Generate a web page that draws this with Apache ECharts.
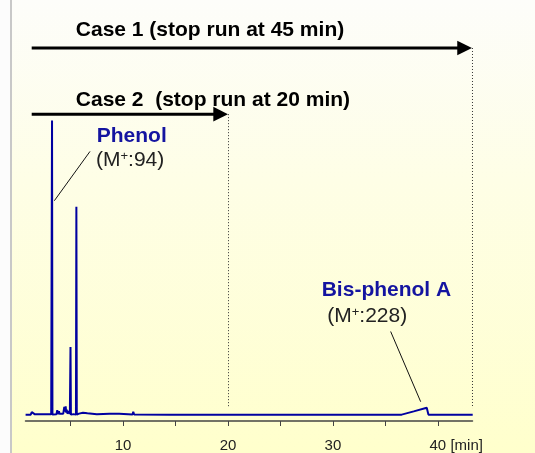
<!DOCTYPE html>
<html><head><meta charset="utf-8">
<script src="https://cdn.jsdelivr.net/npm/echarts@6/dist/echarts.min.js"></script>
<style>
html,body{margin:0;padding:0;}
#wrap{position:relative;width:535px;height:453px;overflow:hidden;background:linear-gradient(to bottom,#fdfdfa 0%,#fefee6 40%,#ffffcc 100%);}
#strip{position:absolute;left:0;top:0;width:10px;height:453px;background:#fcfcfc;border-right:2px solid #c8c8c8;}
#chart{position:absolute;left:0;top:0;width:535px;height:453px;}
</style></head><body>
<div id="wrap"><div id="strip"></div><div id="chart"></div></div>
<script>
// chromatogram trace (retention time [min], signal)
const traceTime = [0.71,1.20,1.30,1.37,1.48,1.60,3.15,3.20,3.23,3.27,3.65,3.73,3.80,3.86,3.89,3.94,3.99,4.05,4.30,4.40,4.46,4.53,4.58,4.63,4.70,4.85,4.88,4.93,4.96,4.99,5.03,5.20,5.28,5.51,5.55,5.59,5.80,6.18,6.30,6.60,6.75,7.50,8.71,8.90,9.64,9.80,10.90,10.97,11.05,14.45,14.52,14.60,36.55,37.70,38.94,39.10,43.32];
const traceSignal = [0,0,2.5,3.5,2,0.3,0.3,0,300,0,0.5,4.5,0.5,1,3.5,1,2.5,1,1,8,3,8.5,2,5,1,1,3.5,0.5,0,69,0,2,0.5,0,212,0,1,2,1,1.5,0.5,0.5,1,0.3,1,0.3,0.2,2.8,0.2,0,1,0,0,3.3,7,0,0];
const tickValues = [5,10,15,20,25,30,35,40];
const tickLabels = [10,20,30,40];
const axisUnit = '[min]';
// annotations
const caseLabels = ['Case 1 (stop run at 45 min)', 'Case 2  (stop run at 20 min)'];
const caseArrowStart = 1.293;
const caseStops = [43.25, 20.0];
const caseLevels = [374, 306.5];
const caseTextPos = [[5.496, 392.5], [5.496, 320.5]];
const caseDropEnd = [6.7, 8.5];
const compoundNames = ['Phenol', 'Bis-phenol A'];
const compoundIons = ['94', '228'];
const compoundTextPos = [[7.49, 284.5], [28.93, 126.5]];
const ionTextPos = [[7.42, 259.5], [29.46, 100.5]];
const leaderFrom = [[6.85, 268.5], [35.50, 84.8]];
const leaderTo = [[3.45, 218.2], [38.36, 13.2]];

const FONT = '"Liberation Sans", Arial, Helvetica, sans-serif';
const chart = echarts.init(document.getElementById('chart'), null, {renderer: 'canvas'});
chart.setOption({
  animation: false,
  backgroundColor: 'transparent',
  grid: {left: 25.48, right: 62.5, top: 22.5, bottom: 24, containLabel: false},
  xAxis: {
    type: 'value', min: 0.7, max: 43.3,
    axisLine: {show: true, onZero: false, lineStyle: {color: '#444', width: 1.5}},
    axisTick: {show: true, length: 5, customValues: tickValues, lineStyle: {color: '#444', width: 1}},
    axisLabel: {
      customValues: tickLabels, margin: 17, fontSize: 15, fontFamily: FONT, color: '#222',
      formatter: v => v === 40 ? '{h|' + axisUnit + ' }40 ' + axisUnit : String(v),
      rich: {h: {color: 'rgba(0,0,0,0)', fontSize: 15, fontFamily: FONT}}
    },
    splitLine: {show: false}
  },
  yAxis: {type: 'value', show: false, min: -6.5, max: 400},
  series: [{
    type: 'line', data: traceTime.map((t, i) => [t, traceSignal[i]]),
    showSymbol: false, symbol: 'none', clip: false,
    lineStyle: {color: '#0000a0', width: 2}
  }]
});

const px = p => chart.convertToPixel({gridIndex: 0}, p);
const g = [];
const AH = 14.7, AW = 7.3;
caseLabels.forEach((label, i) => {
  const a = px([caseArrowStart, caseLevels[i]]);
  const b = px([caseStops[i], caseLevels[i]]);
  const d = px([caseStops[i], caseDropEnd[i]]);
  g.push({type: 'line', shape: {x1: b[0] + 0.5, y1: b[1], x2: d[0] + 0.5, y2: d[1]},
    style: {stroke: '#333', lineWidth: 1, lineDash: [1, 2]}});
  g.push({type: 'line', shape: {x1: a[0], y1: a[1], x2: b[0] - AH + 1, y2: b[1]},
    style: {stroke: '#000', lineWidth: 3}});
  g.push({type: 'polygon', shape: {points: [[b[0], b[1]], [b[0] - AH, b[1] - AW], [b[0] - AH, b[1] + AW]]},
    style: {fill: '#000'}});
  const tp = px(caseTextPos[i]);
  g.push({type: 'text', x: tp[0], y: tp[1], style: {text: label, fontFamily: FONT, fontSize: 21, fontWeight: 'bold', fill: '#000', align: 'left', verticalAlign: 'middle'}});
});
compoundNames.forEach((name, i) => {
  const f = px(leaderFrom[i]), t = px(leaderTo[i]);
  g.push({type: 'line', shape: {x1: f[0], y1: f[1], x2: t[0], y2: t[1]}, style: {stroke: '#111', lineWidth: 1}});
  const cp = px(compoundTextPos[i]);
  g.push({type: 'text', x: cp[0], y: cp[1], style: {text: name, fontFamily: FONT, fontSize: 21, fontWeight: 'bold', fill: '#1414a0', align: 'left', verticalAlign: 'middle'}});
  const ip = px(ionTextPos[i]);
  g.push({type: 'text', x: ip[0], y: ip[1], style: {
    text: '(M{s|+}:' + compoundIons[i] + ')', fontFamily: FONT, fontSize: 21, fill: '#222', align: 'left', verticalAlign: 'middle',
    rich: {s: {fontFamily: FONT, fontSize: 13, fill: '#222', verticalAlign: 'top'}}
  }});
});
chart.setOption({graphic: g});
</script>
</body></html>
